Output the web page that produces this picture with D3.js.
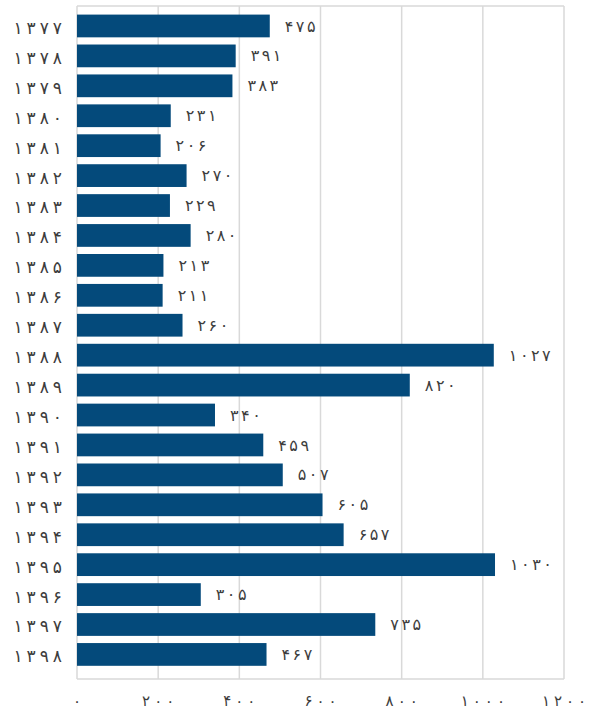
<!DOCTYPE html>
<html><head><meta charset="utf-8">
<script src="https://cdn.jsdelivr.net/npm/d3@7"></script>
<style>body{margin:0;background:#fff;} svg{display:block;}</style>
</head><body>
<svg id="c" width="590" height="713"></svg>
<script>
const years = [1377,1378,1379,1380,1381,1382,1383,1384,1385,1386,1387,1388,1389,1390,1391,1392,1393,1394,1395,1396,1397,1398];
const values = [475,391,383,231,206,270,229,280,213,211,260,1027,820,340,459,507,605,657,1030,305,735,467];
const xTicks = [0,200,400,600,800,1000,1200];

(function(){
const digits = "۰۱۲۳۴۵۶۷۸۹";
const font = "DejaVu Sans, sans-serif";
const svg = d3.select("#c");
const pLeft = 77, pRight = 564, pTop = 6, pBottom = 679;
const x = d3.scaleLinear().domain([0,1200]).range([pLeft,pRight]);
const y = d3.scaleBand().domain(years).range([11,669.4]).paddingInner(0.24).paddingOuter(0.12);

// write a number in Persian digits, one tspan per digit so the spacing can be set
function spaced(sel, num, gap) {
  String(num).split("").forEach((c, k) => {
    sel.append("tspan").attr("dx", k ? gap : 0).text(digits[+c]);
  });
}

svg.append("g").selectAll("line").data(xTicks).join("line")
  .attr("x1",d=>x(d)).attr("x2",d=>x(d)).attr("y1",pTop).attr("y2",pBottom)
  .attr("stroke","#d9d9d9").attr("stroke-width",1.5);
svg.append("line").attr("x1",pLeft).attr("x2",pRight).attr("y1",pTop).attr("y2",pTop).attr("stroke","#d9d9d9").attr("stroke-width",1.5);
svg.append("line").attr("x1",pLeft).attr("x2",pRight).attr("y1",pBottom).attr("y2",pBottom).attr("stroke","#d9d9d9").attr("stroke-width",1.5);

svg.append("g").selectAll("rect").data(years).join("rect")
  .attr("x",x(0)).attr("y",d=>y(d)).attr("height",y.bandwidth())
  .attr("width",(d,i)=>x(values[i])-x(0)).attr("fill","#044a7b");

svg.append("g").selectAll("text").data(years).join("text")
  .attr("x",(d,i)=>x(values[i])+15).attr("y",d=>y(d)+y.bandwidth()/2)
  .attr("dy","0.35em").attr("font-family",font).attr("font-size",16)
  .attr("fill","#3d3d3d")
  .each(function(d,i){ spaced(d3.select(this), values[i], 2.5); });

svg.append("g").selectAll("text").data(years).join("text")
  .attr("x",62).attr("y",d=>y(d)+y.bandwidth()/2+2).attr("text-anchor","end")
  .attr("dy","0.35em").attr("font-family",font).attr("font-size",17)
  .attr("fill","#3d3d3d")
  .each(function(d){ spaced(d3.select(this), d, 4); });

svg.append("g").selectAll("text").data(xTicks).join("text")
  .attr("x",d=>x(d)).attr("y",701).attr("text-anchor","middle")
  .attr("dy","0.35em").attr("font-family",font).attr("font-size",15)
  .attr("fill","#3d3d3d")
  .each(function(d){ spaced(d3.select(this), d, 4); });
})();
</script>
</body></html>
